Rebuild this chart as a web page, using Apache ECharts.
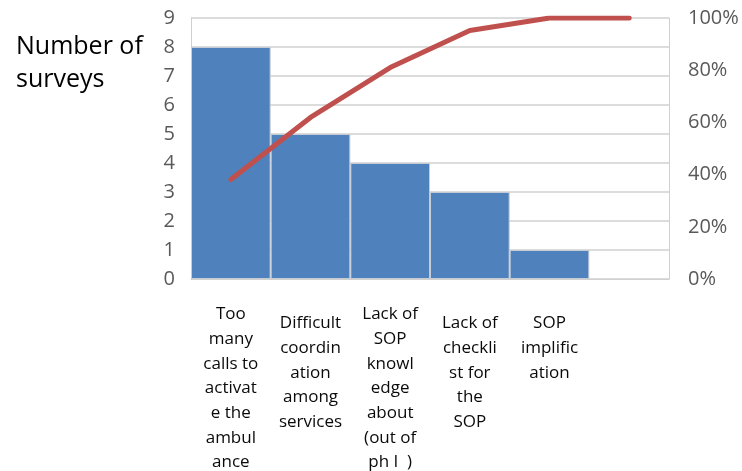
<!DOCTYPE html>
<html><head><meta charset="utf-8">
<script src="https://cdn.jsdelivr.net/npm/echarts@6/dist/echarts.min.js"></script>
<style>html,body{margin:0;padding:0;background:#fff}#c{width:742px;height:471px}</style>
</head><body><div id="c"></div>
<script>
const categories = [
  "Too\nmany\ncalls to\nactivat\ne the\nambul\nance",
  "Difficult\ncoordin\nation\namong\nservices",
  "Lack of\nSOP\nknowl\nedge\nabout\n(out of\nph I  )",
  "Lack of\ncheckli\nst for\nthe\nSOP",
  "SOP\nimplific\nation",
  ""
];
const surveys = [8, 5, 4, 3, 1, null];
const cumulative = [0.381, 0.619, 0.810, 0.952, 1.0, 1.0];
const leftTicks = [0, 1, 2, 3, 4, 5, 6, 7, 8, 9];
const rightTicks = ["0%", "20%", "40%", "60%", "80%", "100%"];

const chart = echarts.init(document.getElementById('c'), null, {renderer: 'canvas'});
const FONT = "'Open Sans', sans-serif";
// short labels sit a little lower in the reference
const lowered = new Set([1, 3, 4]);
const xData = categories.map((c, i) => lowered.has(i)
  ? {value: c, textStyle: {padding: [9, 0, 0, 0]}}
  : c);
chart.setOption({
  animation: false,
  title: {
    text: "Number of\nsurveys",
    left: 11, top: 25,
    textStyle: {fontFamily: FONT, fontSize: 25, fontWeight: 'normal', color: '#000', lineHeight: 33}
  },
  grid: {left: 191, right: 73, top: 18, bottom: 192, containLabel: false, outerBoundsMode: 'none'},
  xAxis: {
    type: 'category',
    data: xData,
    axisTick: {show: false},
    axisLine: {show: true, lineStyle: {color: '#d0d0d0', width: 1}},
    axisLabel: {
      interval: 0, hideOverlap: false, margin: 23,
      fontFamily: FONT, fontSize: 17, color: '#0a0a0a', lineHeight: 24.7
    }
  },
  yAxis: [
    {
      type: 'value', min: 0, max: 9, interval: 1,
      axisLine: {show: true, lineStyle: {color: '#d0d0d0'}},
      axisTick: {show: false},
      axisLabel: {fontFamily: FONT, fontSize: 20, color: '#595959', margin: 16,
        formatter: v => leftTicks.includes(v) ? String(v) : ''},
      splitLine: {show: true, lineStyle: {color: '#d0d0d0', width: 1.5}}
    },
    {
      type: 'value', min: 0, max: 1, interval: 0.2,
      axisLine: {show: true, lineStyle: {color: '#d0d0d0'}},
      axisTick: {show: false},
      axisLabel: {fontFamily: FONT, fontSize: 20, color: '#595959', margin: 19,
        formatter: v => rightTicks[Math.round(v * 5)]},
      splitLine: {show: false}
    }
  ],
  series: [
    {
      type: 'bar', data: surveys, yAxisIndex: 0,
      barCategoryGap: '0%',
      itemStyle: {color: '#4f81bd', borderColor: '#c6ccd6', borderWidth: 1}
    },
    {
      type: 'line', data: cumulative, yAxisIndex: 1,
      showSymbol: false, symbol: 'none',
      lineStyle: {color: '#c0504d', width: 5, cap: 'round', join: 'round'}
    }
  ]
});
</script></body></html>
